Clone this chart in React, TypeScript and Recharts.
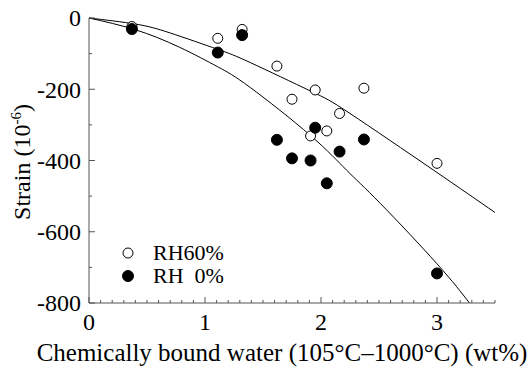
import { ComposedChart, Scatter, Line, XAxis, YAxis } from 'recharts'

// measured points (wt%, strain x10^-6)
const water60 = [0.37, 1.11, 1.32, 1.62, 1.75, 1.91, 1.95, 2.05, 2.16, 2.37, 3.0]
const strain60 = [-24, -57, -32, -135, -228, -331, -202, -317, -268, -197, -408]
const water0 = [0.37, 1.11, 1.32, 1.62, 1.75, 1.91, 1.95, 2.05, 2.16, 2.37, 3.0]
const strain0 = [-31, -97, -48, -342, -394, -400, -308, -464, -375, -341, -717]

// fitted curves
const fitX60 = [0, 0.4, 0.7, 1.11, 1.39, 1.91, 2.25, 2.97, 3.5]
const fitY60 = [0, -17, -42, -88, -125, -205, -268, -427, -546]
const fitX0 = [0, 0.4, 0.78, 1.11, 1.39, 1.91, 2.22, 2.51, 3.0, 3.28]
const fitY0 = [0, -33, -82, -137, -195, -330, -427, -520, -690, -800]

const xLabels = [0, 1, 2, 3]
const yTicks = [0, -100, -200, -300, -400, -500, -600, -700, -800]
const yLabels = [0, -200, -400, -600, -800]
const legendNames = ['RH60%', 'RH  0%']

const xTicks = Array.from({ length: 36 }, (_, i) => i / 10)

const FONT = 'Liberation Serif, Tinos, DejaVu Serif, serif'
const AXIS = '#555'

const pts60 = water60.map((x, i) => ({ x, y: strain60[i] }))
const pts0 = water0.map((x, i) => ({ x, y: strain0[i] }))
const fit60 = fitX60.map((x, i) => ({ x, y: fitY60[i] }))
const fit0 = fitX0.map((x, i) => ({ x, y: fitY0[i] }))

const isMajorX = (v: number) => xLabels.some(l => Math.abs(l - v) < 1e-6)
const isMajorY = (v: number) => yLabels.includes(v)

function BottomTick({ x, y, payload }: any) {
  const major = isMajorX(payload.value)
  return (
    <g>
      <line x1={x} x2={x} y1={y} y2={y - (major ? 6 : 3)} stroke={AXIS} />
      {major && (
        <text x={x} y={y + 27} textAnchor="middle" fontSize={24} style={{ fontFamily: FONT }} fill="#000">
          {Math.round(payload.value)}
        </text>
      )}
    </g>
  )
}

function TopTick({ x, y, payload }: any) {
  const major = isMajorX(payload.value)
  return <line x1={x} x2={x} y1={y} y2={y + (major ? 6 : 3)} stroke={AXIS} />
}

function LeftTick({ x, y, payload }: any) {
  const major = isMajorY(payload.value)
  return (
    <g>
      <line x1={x} x2={x + (major ? 6 : 3)} y1={y} y2={y} stroke={AXIS} />
      {major && (
        <text x={x - 8} y={y} dy="0.35em" textAnchor="end" fontSize={24} style={{ fontFamily: FONT }} fill="#000">
          {payload.value}
        </text>
      )}
    </g>
  )
}

function RightTick({ x, y, payload }: any) {
  const major = isMajorY(payload.value)
  return <line x1={x} x2={x - (major ? 7 : 3)} y1={y} y2={y} stroke={AXIS} />
}

const openDot = (p: any) => <circle cx={p.cx} cy={p.cy} r={5} fill="#fff" stroke="#000" strokeWidth={1} />
const fullDot = (p: any) => <circle cx={p.cx} cy={p.cy} r={5.5} fill="#000" stroke="#000" strokeWidth={1} />

export default function App() {
  return (
    <div style={{ position: 'absolute', left: 0, top: 0, width: 531, height: 371, background: '#fff', fontFamily: FONT }}>
      <ComposedChart width={531} height={371} margin={{ top: 18, right: 36, bottom: 0, left: 0 }}>
        <XAxis
          xAxisId="b"
          type="number"
          dataKey="x"
          domain={[0, 3.5]}
          ticks={xTicks}
          interval={0}
          height={68}
          tickSize={0}
          tickMargin={0}
          tick={<BottomTick />}
          axisLine={{ stroke: AXIS }}
          label={{
            content: () => (
              <text x={282} y={361} textAnchor="middle" fontSize={25} style={{ fontFamily: FONT }} fill="#000">
                Chemically bound water (105°C–1000°C) (wt%)
              </text>
            ),
          }}
        />
        <XAxis
          xAxisId="t"
          orientation="top"
          type="number"
          dataKey="x"
          domain={[0, 3.5]}
          ticks={xTicks}
          interval={0}
          height={0}
          tickSize={0}
          tickMargin={0}
          tick={<TopTick />}
          axisLine={{ stroke: AXIS }}
        />
        <YAxis
          yAxisId="l"
          type="number"
          domain={[-800, 0]}
          ticks={yTicks}
          interval={0}
          width={89}
          tickSize={0}
          tickMargin={0}
          tick={<LeftTick />}
          axisLine={{ stroke: AXIS }}
          label={{
            content: () => (
              <text
                x={22}
                y={162}
                transform="rotate(-90 22 162)"
                textAnchor="middle"
                dy="0.35em"
                fontSize={24}
                style={{ fontFamily: FONT }}
                fill="#000"
              >
                Strain (10
                <tspan fontSize={15} dy={-9}>-6</tspan>
                <tspan dy={9}>)</tspan>
              </text>
            ),
          }}
        />
        <YAxis
          yAxisId="r"
          orientation="right"
          type="number"
          domain={[-800, 0]}
          ticks={yTicks}
          interval={0}
          width={0}
          tickSize={0}
          tickMargin={0}
          tick={<RightTick />}
          axisLine={{ stroke: AXIS }}
        />
        <Line xAxisId="b" yAxisId="l" data={fit60} dataKey="y" type="natural" stroke="#000" strokeWidth={1} dot={false} isAnimationActive={false} />
        <Line xAxisId="b" yAxisId="l" data={fit0} dataKey="y" type="natural" stroke="#000" strokeWidth={1} dot={false} isAnimationActive={false} />
        <Scatter xAxisId="b" yAxisId="l" data={pts60} dataKey="y" shape={openDot} isAnimationActive={false} />
        <Scatter xAxisId="b" yAxisId="l" data={pts0} dataKey="y" shape={fullDot} isAnimationActive={false} />
      </ComposedChart>
      <div style={{ position: 'absolute', left: 121, top: 241, fontSize: 22, lineHeight: '23px', color: '#000' }}>
        {legendNames.map((name, i) => (
          <div key={name} style={{ display: 'flex', alignItems: 'center', height: 23 }}>
            <svg width={14} height={14} style={{ marginRight: 18 }}>
              <circle cx={7} cy={7} r={i === 0 ? 5 : 5.5} fill={i === 0 ? '#fff' : '#000'} stroke="#000" />
            </svg>
            <span style={{ whiteSpace: 'pre' }}>{name}</span>
          </div>
        ))}
      </div>
    </div>
  )
}
